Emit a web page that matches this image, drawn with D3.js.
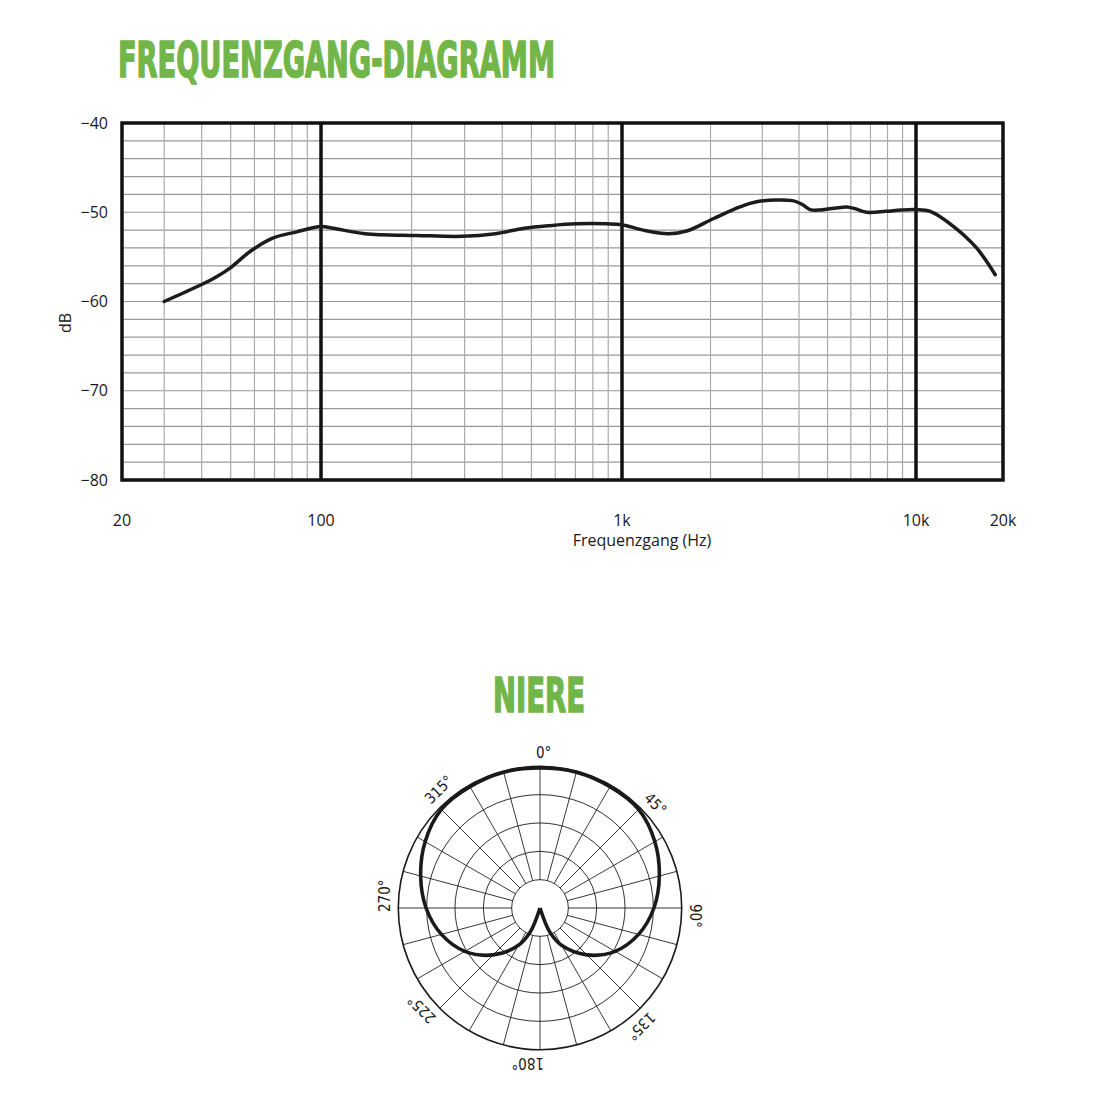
<!DOCTYPE html>
<html>
<head>
<meta charset="utf-8">
<script src="https://cdn.jsdelivr.net/npm/d3@7"></script>
<style>
  body { margin: 0; background: #fff; }
  text { font-family: "Open Sans", "Noto Sans", sans-serif; }
</style>
</head>
<body>
<script>
// frequency response
const freqs = [30, 40, 45, 50, 58, 69, 83, 100, 110, 140, 208, 295, 380, 473, 576, 707, 890, 1000,
  1180, 1440, 1660, 2050, 2520, 2900, 3800, 4090, 4360, 4720, 5810, 6200, 6800, 7890, 8890, 10000,
  11200, 13500, 16200, 18800];
const levels = [-60.0, -58.1, -57.2, -56.2, -54.4, -52.9, -52.2, -51.6, -51.8, -52.4, -52.6, -52.7, -52.4, -51.8, -51.5, -51.3, -51.3, -51.4,
  -52.0, -52.4, -52.1, -50.7, -49.4, -48.8, -48.7, -49.1, -49.7, -49.75, -49.4, -49.6, -50.0, -49.9, -49.75, -49.7,
  -49.9, -51.6, -54.0, -57.0];
const xTickValues = [20, 100, 1000, 10000, 20000];
const xTickLabels = ["20", "100", "1k", "10k", "20k"];
const yTickValues = [-40, -50, -60, -70, -80];
const decades = [100, 1000, 10000];

// polar pattern (Niere / cardioid), dB per angle
const polarAngles = [0, 15, 30, 45, 60, 75, 90, 105, 120, 135, 150, 158, 180, 202, 210, 225, 240, 255, 270, 285, 300, 315, 330, 345];
const polarLevels = [-0.3, -0.2, -0.3, -0.4, -1.6, -3.2, -4.9, -7.0, -9.7, -13.3, -17.4, -20.5, -25, -20.5, -17.4, -13.3, -9.7, -7.0, -4.9, -3.2, -1.6, -0.4, -0.3, -0.2];
const polarRings = [-20, -15, -10, -5, 0];
const polarLabelAngles = [0, 45, 90, 135, 180, 225, 270, 315];

const width = 1100, height = 1100;
const green = "#72b649";

const svg = d3.select("body").append("svg")
  .attr("width", width).attr("height", height)
  .attr("viewBox", [0, 0, width, height]);

// titles
svg.append("text")
  .attr("x", 118).attr("y", 77)
  .attr("fill", green).attr("stroke", green).attr("stroke-width", 1.6)
  .style("font-family", "'Liberation Sans Narrow', 'DejaVu Sans Condensed', sans-serif")
  .style("font-weight", "bold").style("font-size", "49px")
  .attr("textLength", 437).attr("lengthAdjust", "spacingAndGlyphs")
  .text("FREQUENZGANG-DIAGRAMM");

svg.append("text")
  .attr("x", 493).attr("y", 712)
  .attr("fill", green).attr("stroke", green).attr("stroke-width", 1.6)
  .style("font-family", "'Liberation Sans Narrow', 'DejaVu Sans Condensed', sans-serif")
  .style("font-weight", "bold").style("font-size", "48px")
  .attr("textLength", 92).attr("lengthAdjust", "spacingAndGlyphs")
  .text("NIERE");

// ---- frequency response chart ----
const plot = { left: 122, right: 1003, top: 123, bottom: 480 };

const x = d3.scaleLog()
  .domain([21.7, 100, 1000, 10000, 20000])
  .range([plot.left, 321, 622, 916, plot.right])
  .clamp(true);
const y = d3.scaleLinear().domain([-80, -40]).range([plot.bottom, plot.top]);

const grid = svg.append("g");
grid.selectAll("line.h")
  .data(d3.range(-78, -40, 2))
  .join("line")
  .attr("x1", plot.left).attr("x2", plot.right)
  .attr("y1", d => y(d)).attr("y2", d => y(d))
  .attr("stroke", "#999").attr("stroke-width", 1.2);

grid.selectAll("line.v")
  .data(x.ticks().filter(d => d < 10000 && !decades.includes(d)))
  .join("line")
  .attr("x1", d => x(d)).attr("x2", d => x(d))
  .attr("y1", plot.top).attr("y2", plot.bottom)
  .attr("stroke", "#aaa").attr("stroke-width", 1.2);

grid.selectAll("line.dec")
  .data(decades)
  .join("line")
  .attr("x1", d => x(d)).attr("x2", d => x(d))
  .attr("y1", plot.top).attr("y2", plot.bottom)
  .attr("stroke", "#111").attr("stroke-width", 3.5);

svg.append("rect")
  .attr("x", plot.left).attr("y", plot.top)
  .attr("width", plot.right - plot.left).attr("height", plot.bottom - plot.top)
  .attr("fill", "none").attr("stroke", "#111").attr("stroke-width", 3.5);

const line = d3.line()
  .x(d => x(d[0]))
  .y(d => y(d[1]))
  .curve(d3.curveCatmullRom.alpha(0.5));

svg.append("path")
  .datum(d3.zip(freqs, levels))
  .attr("d", line)
  .attr("fill", "none")
  .attr("stroke", "#1c1c1c")
  .attr("stroke-width", 3.5)
  .attr("stroke-linecap", "round")
  .attr("stroke-linejoin", "round");

// y tick labels
svg.append("g")
  .selectAll("text")
  .data(yTickValues)
  .join("text")
  .attr("x", 108).attr("y", d => y(d))
  .attr("dy", "0.35em")
  .attr("text-anchor", "end")
  .style("font-size", "16px").attr("fill", "#1a1a1a")
  .text(d => "\u2212" + Math.abs(d));

// x tick labels
svg.append("g")
  .selectAll("text")
  .data(xTickValues)
  .join("text")
  .attr("x", d => x(d)).attr("y", 526)
  .attr("text-anchor", "middle")
  .style("font-size", "16px").attr("fill", "#1a1a1a")
  .text((d, i) => xTickLabels[i]);

svg.append("text")
  .attr("x", 642).attr("y", 546)
  .attr("text-anchor", "middle")
  .style("font-size", "16px").attr("fill", "#1a1a1a")
  .text("Frequenzgang (Hz)");

svg.append("text")
  .attr("transform", "translate(71,323) rotate(-90)")
  .attr("text-anchor", "middle")
  .style("font-size", "16px").attr("fill", "#1a1a1a")
  .text("dB");

// ---- polar pattern ----
const polar = svg.append("g").attr("transform", "translate(540,908)");
const r = d3.scaleLinear().domain([-25, 0]).range([0, 141.7]);

polar.selectAll("line.spoke")
  .data(d3.range(0, 360, 15))
  .join("line")
  .attr("x1", d => r(-20) * Math.sin(d * Math.PI / 180))
  .attr("y1", d => -r(-20) * Math.cos(d * Math.PI / 180))
  .attr("x2", d => r(0) * Math.sin(d * Math.PI / 180))
  .attr("y2", d => -r(0) * Math.cos(d * Math.PI / 180))
  .attr("stroke", d => d % 90 === 0 ? "#777" : "#222")
  .attr("stroke-width", d => d % 90 === 0 ? 1.4 : 0.9);

polar.selectAll("circle")
  .data(polarRings)
  .join("circle")
  .attr("r", d => r(d))
  .attr("fill", "none")
  .attr("stroke", "#1a1a1a")
  .attr("stroke-width", d => d === 0 ? 1.6 : 0.9);

const start = polarAngles.indexOf(180);
const pts = polarAngles.slice(start).map((a, i) => [a, polarLevels[start + i]])
  .concat(polarAngles.slice(0, start + 1).map((a, i) => [a + 360, polarLevels[i]]));

const radial = d3.lineRadial()
  .angle(d => d[0] * Math.PI / 180)
  .radius(d => r(d[1]))
  .curve(d3.curveCatmullRom.alpha(0.5));

polar.append("path")
  .datum(pts)
  .attr("d", radial)
  .attr("fill", "none")
  .attr("stroke", "#1a1a1a")
  .attr("stroke-width", 3.6)
  .attr("stroke-linejoin", "round");

polar.selectAll("text")
  .data(polarLabelAngles)
  .join("text")
  .attr("transform", d => `rotate(${d}) translate(0,-150)`)
  .attr("dx", -4)
  .attr("text-anchor", "start")
  .style("font-family", "'Liberation Sans Narrow', 'DejaVu Sans Condensed', sans-serif")
  .style("font-size", "15px")
  .attr("fill", "#1a1a1a")
  .text(d => d + "\u00b0");
</script>
</body>
</html>
